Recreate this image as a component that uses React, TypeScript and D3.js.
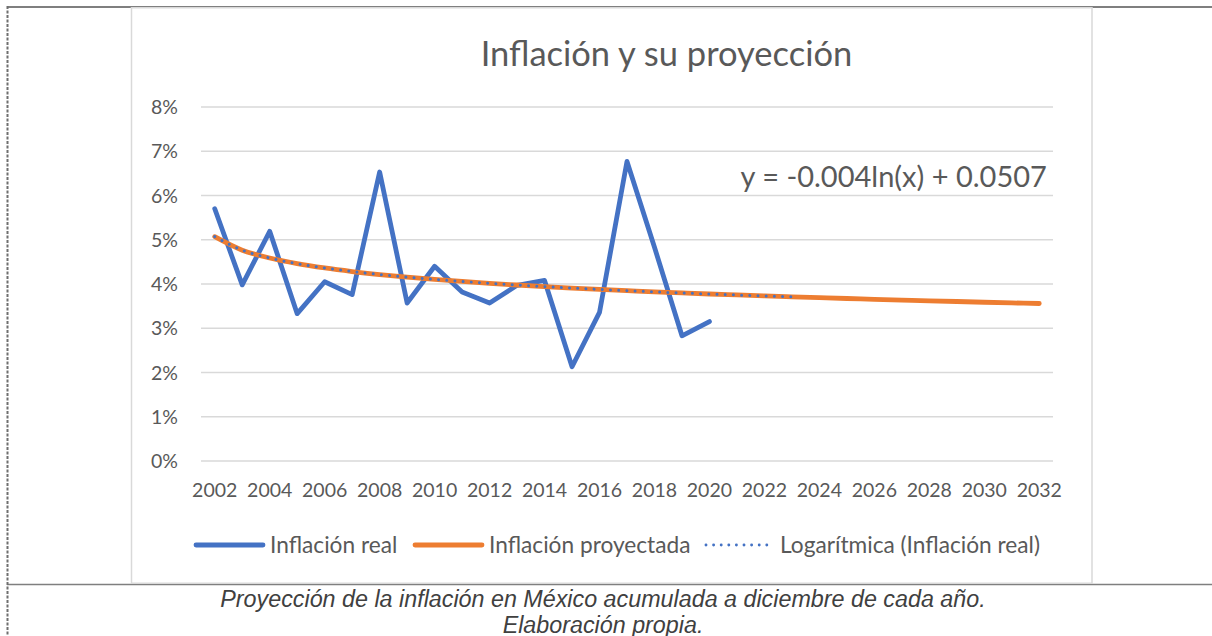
import React from "react";
import * as d3 from "d3";

const years: number[] = [
  2002, 2003, 2004, 2005, 2006, 2007, 2008, 2009, 2010, 2011, 2012, 2013, 2014, 2015, 2016, 2017,
  2018, 2019, 2020, 2021, 2022, 2023, 2024, 2025, 2026, 2027, 2028, 2029, 2030, 2031, 2032,
];
const tickYears: number[] = [
  2002, 2004, 2006, 2008, 2010, 2012, 2014, 2016, 2018, 2020, 2022, 2024, 2026, 2028, 2030, 2032,
];
const yTicks: number[] = [0, 0.01, 0.02, 0.03, 0.04, 0.05, 0.06, 0.07, 0.08];

// Inflación real 2002-2020
const realValues: number[] = [
  0.057, 0.0398, 0.0519, 0.0333, 0.0405, 0.0376, 0.0653, 0.0357, 0.044, 0.0382, 0.0357, 0.0397,
  0.0408, 0.0213, 0.0336, 0.0677, 0.0483, 0.0283, 0.0315,
];
// Inflación proyectada 2002-2032
const projectedValues: number[] = [
  0.0507, 0.04765, 0.04587, 0.0446, 0.04362, 0.04282, 0.04214, 0.04155, 0.04103, 0.04057, 0.04015,
  0.03977, 0.03941, 0.03909, 0.03878, 0.0385, 0.03823, 0.03798, 0.03774, 0.03752, 0.0373, 0.0371,
  0.0369, 0.03672, 0.03654, 0.03636, 0.0362, 0.03604, 0.03588, 0.03573, 0.03559,
];
// Logarítmica (Inflación real) 2002-2023
const trendValues: number[] = [
  0.0507, 0.04765, 0.04587, 0.0446, 0.04362, 0.04282, 0.04214, 0.04155, 0.04103, 0.04057, 0.04015,
  0.03977, 0.03941, 0.03909, 0.03878, 0.0385, 0.03823, 0.03798, 0.03774, 0.03752, 0.0373, 0.0371,
];

const seriesNames: string[] = ["Inflación real", "Inflación proyectada", "Logarítmica (Inflación real)"];
const titleText = "Inflación y su proyección";
const equationText = "y = -0.004ln(x) + 0.0507";
const captionLines: string[] = [
  "Proyección de la inflación en México acumulada a diciembre de cada año.",
  "Elaboración propia.",
];

const BLUE = "#4472C4";
const ORANGE = "#ED7D31";
const TXT = "#595959";
const GRID = "#d9d9d9";
const FONT = "Lato, 'Noto Sans', sans-serif";

export default function App() {
  const x = d3
    .scalePoint<number>()
    .domain(years)
    .range([201, 1053])
    .padding(0.5);
  const y = d3.scaleLinear().domain([0, 0.08]).range([461, 107]);

  const line = d3
    .line<number>()
    .x((_, i) => x(years[i]) as number)
    .y((d) => y(d));
  const smooth = d3
    .line<number>()
    .x((_, i) => x(years[i]) as number)
    .y((d) => y(d))
    .curve(d3.curveMonotoneX);

  const pct = d3.format(".0%");

  const legend = [
    { x0: 194, tx: 270, color: BLUE, dash: undefined as string | undefined, w: 4.8, name: seriesNames[0] },
    { x0: 413, tx: 489, color: ORANGE, dash: undefined, w: 4.8, name: seriesNames[1] },
    { x0: 704, tx: 780, color: BLUE, dash: "0.001 7.6", w: 2.9, name: seriesNames[2] },
  ];

  return (
    <svg
      width={1212}
      height={636}
      style={{ position: "absolute", left: 0, top: 0, display: "block" }}
    >
      <rect x={0} y={0} width={1212} height={636} fill="#fff" />
      {/* table borders */}
      <line x1={7} y1={7} x2={1212} y2={7} stroke="#7f7f7f" strokeWidth={2} />
      <line x1={7} y1={584.5} x2={1212} y2={584.5} stroke="#7f7f7f" strokeWidth={1.5} />
      <line
        x1={7.5}
        y1={6}
        x2={7.5}
        y2={636}
        stroke="#6f6f6f"
        strokeWidth={2}
        strokeDasharray="3 1.5"
      />
      {/* chart image */}
      <rect x={131.5} y={7.75} width={960.5} height={575.5} fill="#fff" stroke={GRID} strokeWidth={1.5} />

      <text
        x={666.5}
        y={66}
        textAnchor="middle"
        fontFamily={FONT}
        fontSize={34.5}
        fill={TXT}
      >
        {titleText}
      </text>

      {/* gridlines */}
      {yTicks.map((t) => (
        <line key={t} x1={201} x2={1053} y1={y(t)} y2={y(t)} stroke={GRID} strokeWidth={1.5} />
      ))}
      {yTicks.map((t) => (
        <text
          key={"l" + t}
          x={178}
          y={y(t)}
          dy="0.36em"
          textAnchor="end"
          fontFamily={FONT}
          fontSize={19.5}
          fill={TXT}
        >
          {pct(t)}
        </text>
      ))}
      {tickYears.map((yr) => (
        <text
          key={yr}
          x={x(yr)}
          y={496.5}
          textAnchor="middle"
          fontFamily={FONT}
          fontSize={19.5}
          fill={TXT}
        >
          {yr}
        </text>
      ))}

      {/* series */}
      <path
        d={line(realValues) || ""}
        fill="none"
        stroke={BLUE}
        strokeWidth={4.8}
        strokeLinejoin="round"
        strokeLinecap="round"
      />
      <path
        d={smooth(projectedValues) || ""}
        fill="none"
        stroke={ORANGE}
        strokeWidth={4.8}
        strokeLinejoin="round"
        strokeLinecap="round"
      />
      <path
        d={smooth(trendValues) || ""}
        fill="none"
        stroke={BLUE}
        strokeWidth={3}
        strokeDasharray="0.001 8.2"
        strokeLinecap="round"
      />

      <text x={740.5} y={186.5} fontFamily={FONT} fontSize={29} fill={TXT}>
        {equationText}
      </text>

      {/* legend */}
      {legend.map((l) => (
        <g key={l.name}>
          <line
            x1={l.x0 + 2}
            x2={l.x0 + 69}
            y1={545}
            y2={545}
            stroke={l.color}
            strokeWidth={l.w}
            strokeDasharray={l.dash}
            strokeLinecap="round"
          />
          <text x={l.tx} y={545} dy="0.36em" fontFamily={FONT} fontSize={22.7} fill={TXT}>
            {l.name}
          </text>
        </g>
      ))}

      {/* caption */}
      {captionLines.map((c, i) => (
        <text
          key={c}
          x={603}
          y={607 + i * 25.5}
          textAnchor="middle"
          fontFamily="'Liberation Sans', Arial, sans-serif"
          fontStyle="italic"
          fontSize={23.3}
          fill="#404040"
        >
          {c}
        </text>
      ))}
    </svg>
  );
}
